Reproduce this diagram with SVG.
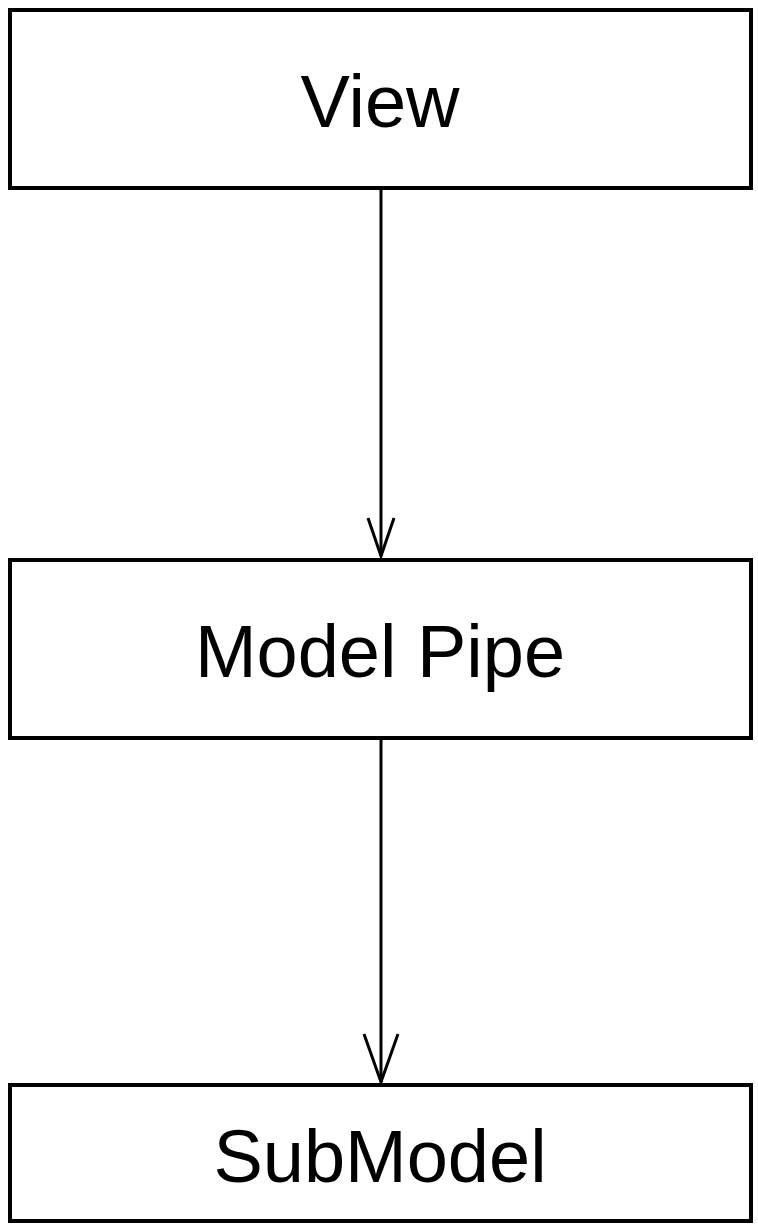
<svg xmlns="http://www.w3.org/2000/svg" width="758" height="1229" viewBox="0 0 758 1229">
<style>
.box{fill:#fff;stroke:#000;stroke-width:4}
.lbl{font-family:"Liberation Sans",Arial,sans-serif;font-size:74px;fill:#000;text-anchor:middle}
.edge{fill:none;stroke:#000;stroke-width:3}
</style>
<rect width="758" height="1229" fill="#fff"/>
<g id="connectors">
<path class="edge" d="M381 188 V556"/>
<path class="edge" d="M368 518 L381 556 L394 518"/>
<path class="edge" d="M381 738 V1082"/>
<path class="edge" d="M364 1034 L381 1082 L398 1034"/>
</g>
<g id="view">
<rect class="box" x="10" y="10" width="741" height="178"/>
<text class="lbl" x="380" y="127">View</text>
</g>
<g id="modelpipe">
<rect class="box" x="10" y="560" width="741" height="178"/>
<text class="lbl" x="380" y="677">Model Pipe</text>
</g>
<g id="submodel">
<rect class="box" x="10" y="1085" width="741" height="136"/>
<text class="lbl" x="380" y="1182">SubModel</text>
</g>
</svg>
